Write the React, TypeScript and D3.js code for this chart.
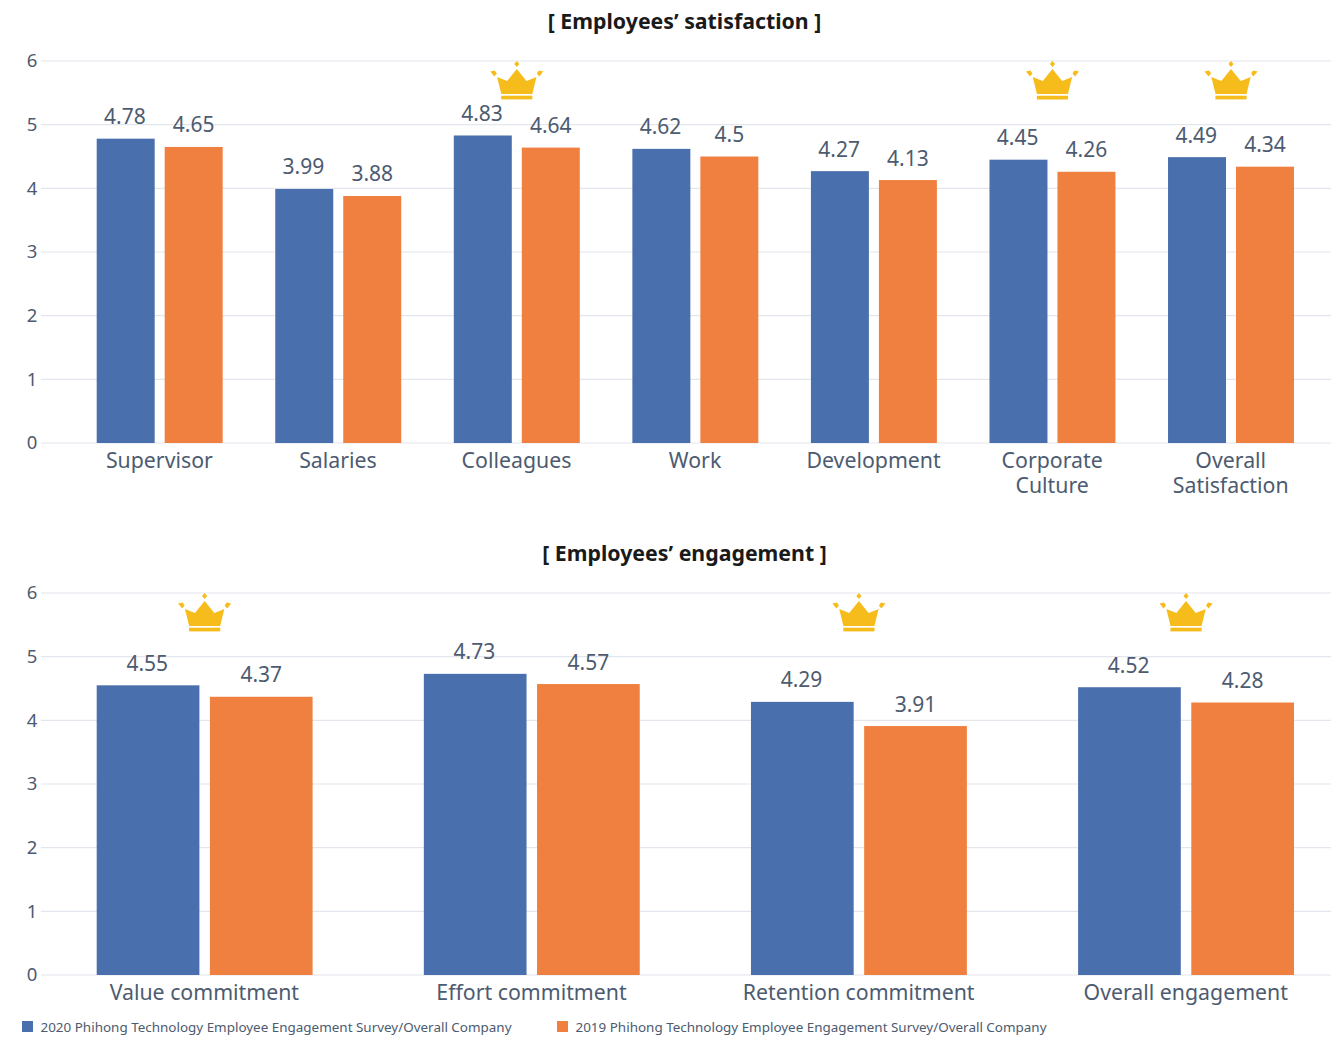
import React from "react";
import * as d3 from "d3";

const satisfactionCategories = ["Supervisor", "Salaries", "Colleagues", "Work", "Development", "Corporate\nCulture", "Overall\nSatisfaction"];
const satisfaction2020 = [4.78, 3.99, 4.83, 4.62, 4.27, 4.45, 4.49];
const satisfaction2019 = [4.65, 3.88, 4.64, 4.5, 4.13, 4.26, 4.34];
const satisfactionCrowns = ["Colleagues", "Corporate\nCulture", "Overall\nSatisfaction"];

const engagementCategories = ["Value commitment", "Effort commitment", "Retention commitment", "Overall engagement"];
const engagement2020 = [4.55, 4.73, 4.29, 4.52];
const engagement2019 = [4.37, 4.57, 3.91, 4.28];
const engagementCrowns = ["Value commitment", "Retention commitment", "Overall engagement"];

const yTicks = [0, 1, 2, 3, 4, 5, 6];
const legendLabels = [
  "2020 Phihong Technology Employee Engagement Survey/Overall Company",
  "2019 Phihong Technology Employee Engagement Survey/Overall Company",
];

const BLUE = "#4a6fad";
const ORANGE = "#f0803f";
const TEXT = "#4d5b70";
const GRID = "#e4e6ee";
const GOLD = "#f6bc1c";
const FONT = "'Noto Sans', sans-serif";

// Crown glyph, drawn around its own centre and placed by translate.
const CROWN_BODY = "M0,-18 L9.7,-6 L19.7,-10 L15.5,7 L-15.5,7 L-19.7,-10 L-9.7,-6 Z";
const CROWN_BASE = "M-15.6,8.7 H15.6 V12.4 H-15.6 Z";
const CROWN_GEMS = [
  "M0,-26 L2.6,-23 L0,-20 L-2.6,-23 Z",
  "M-26.5,-15.5 L-22,-16.5 L-20,-13.5 L-22.5,-10.5 Z",
  "M26.5,-15.5 L22,-16.5 L20,-13.5 L22.5,-10.5 Z",
];

function Crown({ x, y }: { x: number; y: number }) {
  return (
    <g transform={`translate(${x},${y})`} fill={GOLD}>
      <path d={CROWN_BODY} />
      <path d={CROWN_BASE} />
      {CROWN_GEMS.map((d, i) => <path key={i} d={d} />)}
    </g>
  );
}

type PanelProps = {
  title: string;
  titleX: number;
  titleY: number;
  top: number;
  bottom: number;
  categories: string[];
  seriesA: number[];
  seriesB: number[];
  crowns: string[];
  paddingInner: number;
  barGap: number;
};

function Panel({ title, titleX, titleY, top, bottom, categories, seriesA, seriesB, crowns, paddingInner, barGap }: PanelProps) {
  const y = d3.scaleLinear().domain([0, 6]).range([bottom, top]);
  const x = d3.scaleBand<string>().domain(categories).range([96.7, 1294]).paddingInner(paddingInner).paddingOuter(0);
  const barW = (x.bandwidth() - barGap) / 2;
  return (
    <g fontFamily={FONT}>
      <text x={titleX} y={titleY} textAnchor="middle" fontSize={21.3} fontWeight={700} fill="#1a1a1a">{title}</text>
      {yTicks.map((t) => (
        <g key={t}>
          <line x1={41} x2={1331} y1={y(t)} y2={y(t)} stroke={GRID} strokeWidth={1.2} />
          <text x={32} y={y(t) + 6.3} textAnchor="middle" fontSize={18.5} fill={TEXT}>{t}</text>
        </g>
      ))}
      {categories.map((c, i) => {
        const x0 = x(c)!;
        const mid = x0 + x.bandwidth() / 2;
        const xB = x0 + barW + barGap;
        return (
          <g key={c}>
            <rect x={x0} y={y(seriesA[i])} width={barW} height={bottom - y(seriesA[i])} fill={BLUE} />
            <rect x={xB} y={y(seriesB[i])} width={barW} height={bottom - y(seriesB[i])} fill={ORANGE} />
            <text x={x0 + barW / 2 - 0.8} y={y(seriesA[i]) - 14.5} textAnchor="middle" fontSize={21} fill={TEXT}>{seriesA[i]}</text>
            <text x={xB + barW / 2} y={y(seriesB[i]) - 14.5} textAnchor="middle" fontSize={21} fill={TEXT}>{seriesB[i]}</text>
            {c.split("\n").map((line, k) => (
              <text key={k} x={mid - 0.3} y={bottom + 24.8 + k * 25.2} textAnchor="middle" fontSize={21.3} fill={TEXT}>{line}</text>
            ))}
            {crowns.includes(c) && <Crown x={mid} y={top + 26} />}
          </g>
        );
      })}
    </g>
  );
}

export default function App() {
  return (
    <svg width={1331} height={1037} style={{ position: "absolute", left: 0, top: 0, background: "#fff" }}>
      <Panel
        title="[ Employees’ satisfaction ]"
        titleX={684.5}
        titleY={29}
        top={61}
        bottom={443}
        categories={satisfactionCategories}
        seriesA={satisfaction2020}
        seriesB={satisfaction2019}
        crowns={satisfactionCrowns}
        paddingInner={0.2945}
        barGap={10}
      />
      <Panel
        title="[ Employees’ engagement ]"
        titleX={684.5}
        titleY={561}
        top={593}
        bottom={975}
        categories={engagementCategories}
        seriesA={engagement2020}
        seriesB={engagement2019}
        crowns={engagementCrowns}
        paddingInner={0.34}
        barGap={10.5}
      />
      <g fontFamily={FONT} fontSize={13.45} fill={TEXT}>
        <rect x={22} y={1021} width={11} height={11} fill={BLUE} />
        <text x={40.5} y={1032}>{legendLabels[0]}</text>
        <rect x={557} y={1021} width={11} height={11} fill={ORANGE} />
        <text x={575.5} y={1032}>{legendLabels[1]}</text>
      </g>
    </svg>
  );
}
